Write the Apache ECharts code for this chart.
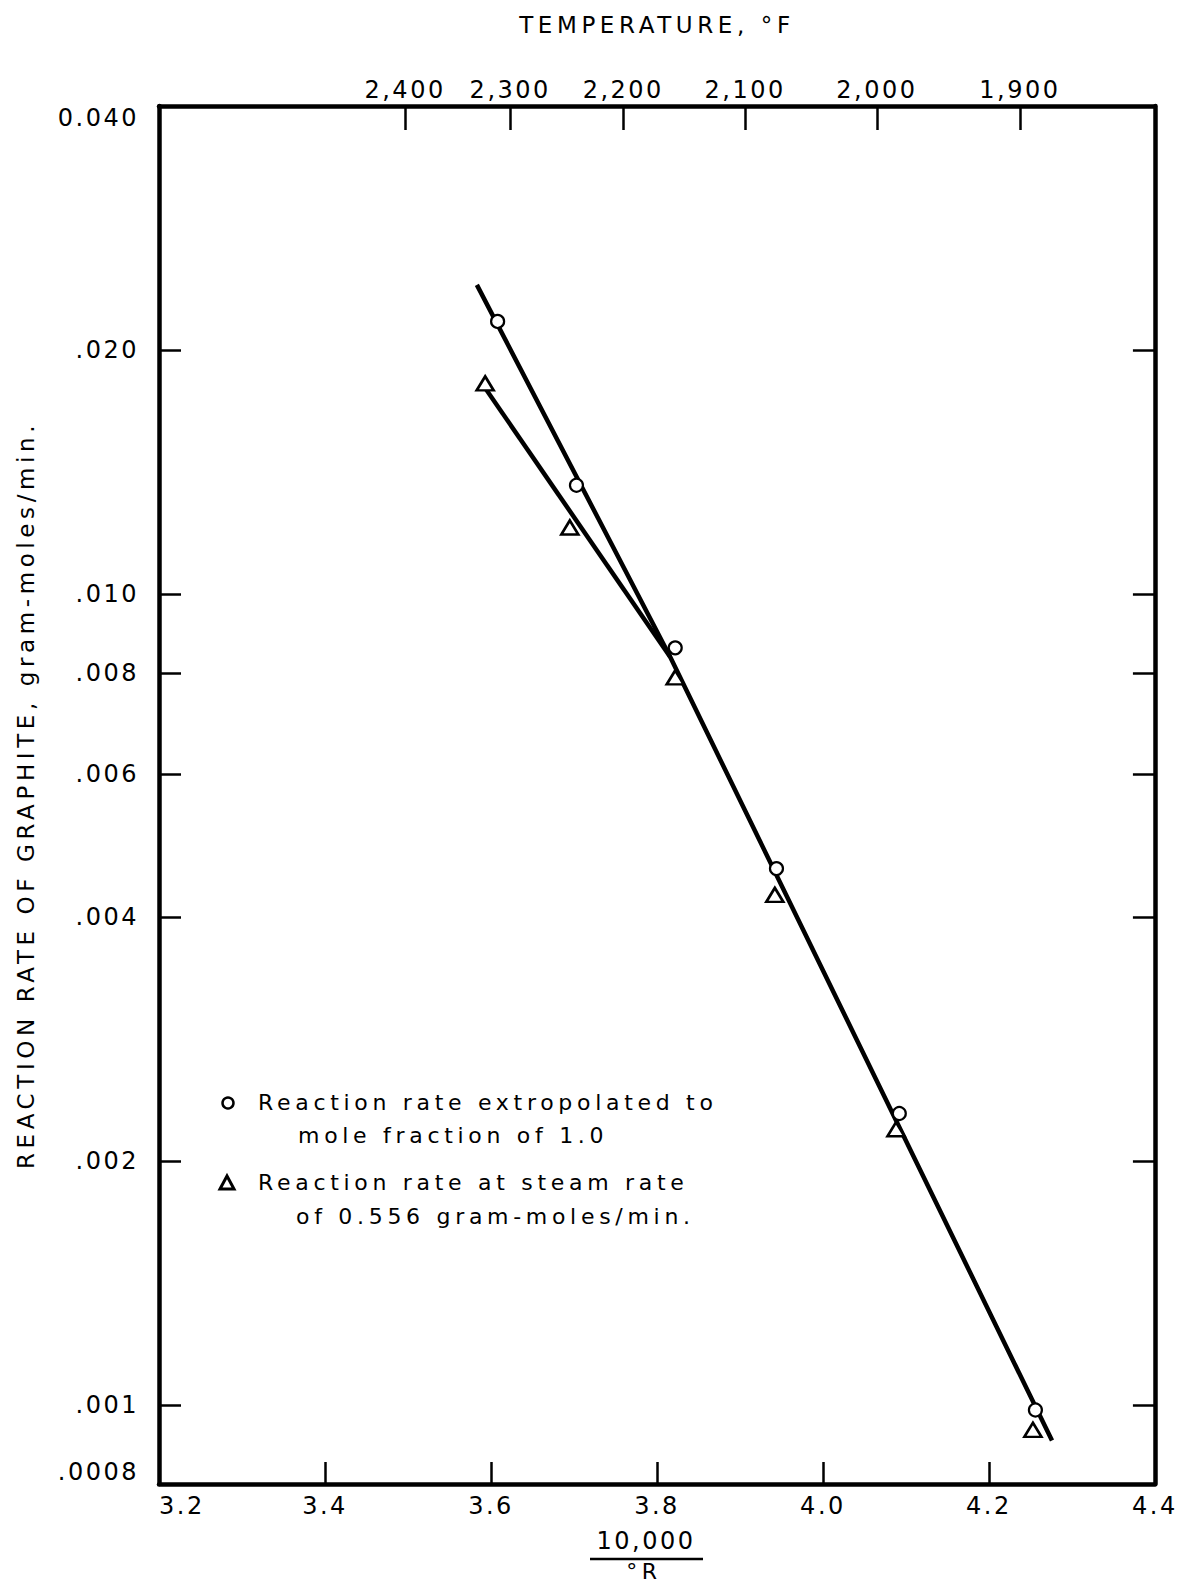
<!DOCTYPE html>
<html><head><meta charset="utf-8">
<script src="https://cdn.jsdelivr.net/npm/echarts@6/dist/echarts.min.js"></script>
<style>
html,body{margin:0;padding:0;background:#fff;}
#c{width:1177px;height:1586px;}
#c text{letter-spacing:2.5px;}
#c text[style*="23px"]{letter-spacing:4.6px;}
#c text[style*="22px"]{letter-spacing:4.7px;}
</style></head><body><div id="c"></div>
<script>
// ---- data ----
const circleX = [3.608, 3.703, 3.822, 3.944, 4.092, 4.256];
const circleRate = [0.0217, 0.01363, 0.00859, 0.00459, 0.00229, 0.000987];
const triangleX = [3.593, 3.695, 3.822, 3.942, 4.088, 4.253];
const triangleRate = [0.0182, 0.01209, 0.0079, 0.00426, 0.00219, 0.000933];
const fitCircleX = [3.583, 3.816, 4.276];
const fitCircleRate = [0.02407, 0.00837, 0.000905];
const fitTriangleX = [3.594, 3.816];
const fitTriangleRate = [0.0179, 0.00837];
const xLabelValues = [3.2, 3.4, 3.6, 3.8, 4.0, 4.2, 4.4];
const xTickValues = [3.4, 3.6, 3.8, 4.0, 4.2];
const yTickValues = [0.04, 0.02, 0.01, 0.008, 0.006, 0.004, 0.002, 0.001, 0.0008];
const yTickLabels = ['0.040', '.020', '.010', '.008', '.006', '.004', '.002', '.001', '.0008'];
const tempF = [2400, 2300, 2200, 2100, 2000, 1900];
const tempLabels = ['2,400', '2,300', '2,200', '2,100', '2,000', '1,900'];
const legendLines = ['Reaction rate extropolated to', 'mole fraction of 1.0',
                     'Reaction rate at steam rate', 'of 0.556 gram-moles/min.'];

// ---- derived ----
const FONT = 'DejaVu Sans';
const tempX = tempF.map(f => 10000 / (f + 460));
const pairs = (xs, ys) => xs.map((x, i) => [x, ys[i]]);
const nearestIdx = (arr, v) => {
  let bi = 0, bd = Infinity;
  arr.forEach((a, i) => { const d = Math.abs(Math.log(a) - Math.log(v)); if (d < bd) { bd = d; bi = i; } });
  return bi;
};
const nearestLin = (arr, v) => {
  let bi = 0, bd = Infinity;
  arr.forEach((a, i) => { const d = Math.abs(a - v); if (d < bd) { bd = d; bi = i; } });
  return bi;
};
const lineBlack = { color: '#000', width: 4.5 };
const tickStyle = { color: '#000', width: 2.5 };
const labelStyle = { color: '#000', fontSize: 24, fontFamily: FONT };
const nameStyle = { color: '#000', fontSize: 23, fontFamily: FONT };

const chart = echarts.init(document.getElementById('c'), null, { renderer: 'svg' });
chart.setOption({
  animation: false,
  backgroundColor: '#fff',
  grid: { left: 159, right: 21, top: 106, bottom: 102 },
  xAxis: [
    {
      type: 'value', position: 'bottom', min: 3.2, max: 4.4,
      axisLine: { show: true, onZero: false, lineStyle: lineBlack },
      axisTick: { show: true, inside: true, length: 22, lineStyle: tickStyle, customValues: xTickValues },
      axisLabel: Object.assign({ customValues: xLabelValues, margin: 10, formatter: v => v.toFixed(1), alignMinLabel: 'left' }, labelStyle),
      splitLine: { show: false }
    },
    {
      type: 'value', position: 'top', min: 3.2, max: 4.4,
      axisLine: { show: true, onZero: false, lineStyle: lineBlack },
      axisTick: { show: true, inside: true, length: 24, lineStyle: tickStyle, customValues: tempX },
      axisLabel: Object.assign({ customValues: tempX, margin: 4, formatter: v => tempLabels[nearestLin(tempX, v)] }, labelStyle),
      splitLine: { show: false },
      name: 'TEMPERATURE, °F', nameLocation: 'middle', nameGap: 70,
      nameTextStyle: nameStyle
    }
  ],
  yAxis: [
    {
      type: 'log', logBase: 10, min: 0.0008, max: 0.04, position: 'left',
      axisLine: { show: true, onZero: false, lineStyle: lineBlack },
      axisTick: { show: true, inside: true, length: 22, lineStyle: tickStyle, customValues: yTickValues.slice(1, -1) },
      axisLabel: Object.assign({ customValues: yTickValues, margin: 20, formatter: v => yTickLabels[nearestIdx(yTickValues, v)],
        verticalAlignMinLabel: 'top', verticalAlignMaxLabel: 'bottom' }, labelStyle),
      minorTick: { show: false }, splitLine: { show: false },
      name: 'REACTION RATE OF GRAPHITE, gram-moles/min.', nameLocation: 'middle', nameGap: 122, nameRotate: 90,
      nameTextStyle: nameStyle
    },
    {
      type: 'log', logBase: 10, min: 0.0008, max: 0.04, position: 'right',
      axisLine: { show: true, onZero: false, lineStyle: lineBlack },
      axisTick: { show: true, inside: true, length: 22, lineStyle: tickStyle, customValues: yTickValues.slice(1, -1) },
      axisLabel: { show: false },
      minorTick: { show: false }, splitLine: { show: false }
    }
  ],
  series: [
    { type: 'line', xAxisIndex: 0, yAxisIndex: 0, data: pairs(fitCircleX, fitCircleRate), symbol: 'none', lineStyle: lineBlack, z: 2, silent: true },
    { type: 'line', xAxisIndex: 0, yAxisIndex: 0, data: pairs(fitTriangleX, fitTriangleRate), symbol: 'none', lineStyle: lineBlack, z: 2, silent: true },
    { type: 'scatter', xAxisIndex: 0, yAxisIndex: 0, data: pairs(circleX, circleRate), symbol: 'circle', symbolSize: 13,
      itemStyle: { color: '#fff', borderColor: '#000', borderWidth: 2.2, opacity: 1 }, z: 3, silent: true },
    { type: 'scatter', xAxisIndex: 0, yAxisIndex: 0, data: pairs(triangleX, triangleRate), symbol: 'triangle', symbolSize: [17, 14],
      itemStyle: { color: '#fff', borderColor: '#000', borderWidth: 2.6, opacity: 1 }, z: 3, silent: true }
  ],
  graphic: [
    // legend
    { type: 'circle', shape: { cx: 228, cy: 1103, r: 5.5 }, style: { fill: '#fff', stroke: '#000', lineWidth: 2.5 } },
    { type: 'text', left: 258, top: 1104 - 13, style: { text: legendLines[0], fill: '#000', fontSize: 22, fontFamily: FONT } },
    { type: 'text', left: 298, top: 1137 - 13, style: { text: legendLines[1], fill: '#000', fontSize: 22, fontFamily: FONT } },
    { type: 'polygon', shape: { points: [[227, 1176], [234, 1189], [220, 1189]] }, style: { fill: '#fff', stroke: '#000', lineWidth: 3 } },
    { type: 'text', left: 258, top: 1184 - 13, style: { text: legendLines[2], fill: '#000', fontSize: 22, fontFamily: FONT } },
    { type: 'text', left: 296, top: 1218 - 13, style: { text: legendLines[3], fill: '#000', fontSize: 22, fontFamily: FONT } },
    // x axis name as a fraction
    { type: 'text', x: 646, y: 1541, style: { text: '10,000', fill: '#000', fontSize: 24, fontFamily: FONT, align: 'center', verticalAlign: 'middle' } },
    { type: 'line', shape: { x1: 590, y1: 1559, x2: 703, y2: 1559 }, style: { stroke: '#000', lineWidth: 2.5 } },
    { type: 'text', x: 644, y: 1571, style: { text: '°R', fill: '#000', fontSize: 22, fontFamily: FONT, align: 'center', verticalAlign: 'middle' } }
  ]
});
</script></body></html>
